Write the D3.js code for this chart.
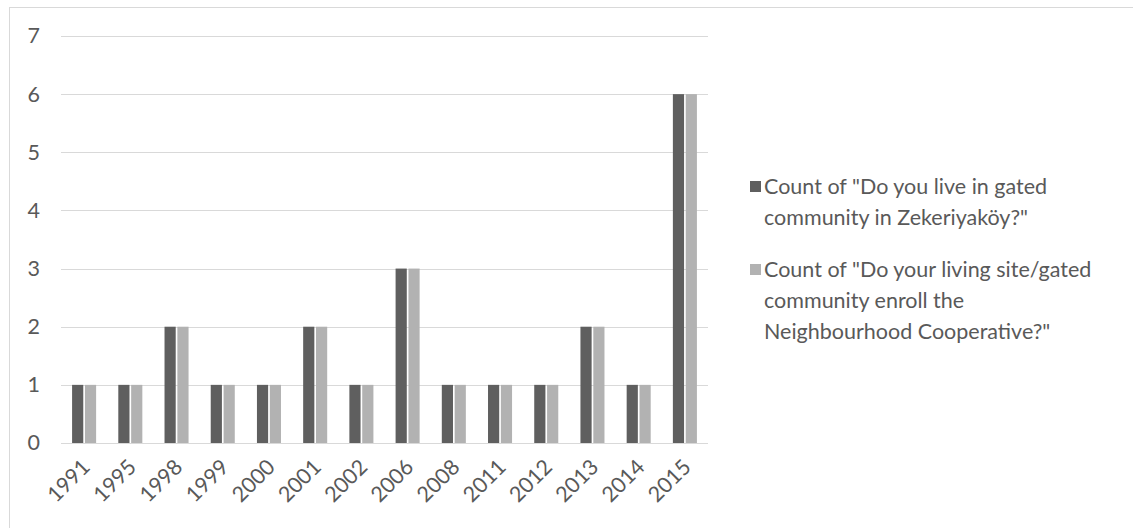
<!DOCTYPE html>
<html>
<head>
<meta charset="utf-8">
<script src="https://cdn.jsdelivr.net/npm/d3@7"></script>
<style>
  html, body { margin: 0; padding: 0; background: #fff; }
  svg { display: block; }
  text { font-family: Lato, "Open Sans", sans-serif; fill: #595959; }
</style>
</head>
<body>
<svg id="chart" width="1133" height="528"></svg>
<script>
// Survey counts by year
const years = ["1991","1995","1998","1999","2000","2001","2002","2006","2008","2011","2012","2013","2014","2015"];
const liveInGated = [1,1,2,1,1,2,1,3,1,1,1,2,1,6];
const enrollCooperative = [1,1,2,1,1,2,1,3,1,1,1,2,1,6];
const seriesNames = [
  ["Count of \"Do you live in gated", "community in Zekeriyaköy?\""],
  ["Count of \"Do your living site/gated", "community enroll the", "Neighbourhood Cooperative?\""]
];
const yTicks = [0,1,2,3,4,5,6,7];
const colors = ["#5f5f5f", "#b2b2b2"];
const fontSize = 21.5;

const svg = d3.select("#chart");

// outer chart frame
svg.append("rect")
  .attr("x", 9.5).attr("y", 7.5)
  .attr("width", 1140).attr("height", 540)
  .attr("fill", "none").attr("stroke", "#d9d9d9").attr("stroke-width", 1);

const plot = { left: 61, right: 708, top: 36, bottom: 443 };

const y = d3.scaleLinear().domain([0, 7]).range([plot.bottom, plot.top]);
const x0 = d3.scaleBand().domain(years).range([plot.left, plot.right])
  .paddingInner(0.48).paddingOuter(0.24);
const keys = [0, 1];
const x1 = d3.scaleBand().domain(keys).range([0, x0.bandwidth()]).paddingInner(0.13);

// gridlines
svg.append("g").selectAll("line").data(yTicks).join("line")
  .attr("x1", plot.left).attr("x2", plot.right)
  .attr("y1", d => Math.round(y(d)) + 0.5).attr("y2", d => Math.round(y(d)) + 0.5)
  .attr("stroke", "#d9d9d9").attr("stroke-width", 1);

// y tick labels
const yAxis = d3.axisLeft(y).tickValues(yTicks).tickFormat(d3.format("d")).tickSize(0).tickPadding(0);
const gy = svg.append("g").attr("transform", `translate(40,0)`).call(yAxis);
gy.select(".domain").remove();
gy.selectAll("text").attr("font-size", fontSize).attr("fill", "#595959")
  .style("font-family", "Lato, 'Open Sans', sans-serif");

// bars
const data = years.map((yr, i) => ({ yr, vals: [liveInGated[i], enrollCooperative[i]] }));
const groups = svg.append("g").selectAll("g").data(data).join("g")
  .attr("transform", d => `translate(${x0(d.yr)},0)`);
groups.selectAll("rect").data(d => d.vals.map((v, k) => ({ k, v }))).join("rect")
  .attr("x", d => x1(d.k))
  .attr("width", x1.bandwidth())
  .attr("y", d => y(d.v))
  .attr("height", d => y(0) - y(d.v))
  .attr("fill", d => colors[d.k]);

// x tick labels, rotated
const xAxis = d3.axisBottom(x0).tickSize(0).tickPadding(0);
const gx = svg.append("g").attr("transform", `translate(0,${plot.bottom})`).call(xAxis);
gx.select(".domain").remove();
gx.selectAll("text")
  .attr("font-size", fontSize).attr("fill", "#595959")
  .style("font-family", "Lato, 'Open Sans', sans-serif")
  .attr("text-anchor", "end")
  .attr("dy", "0.35em").attr("y", 0)
  .attr("transform", "translate(2,20) rotate(-45)");

// legend
const legendTop = [194, 277];
seriesNames.forEach((lines, k) => {
  const g = svg.append("g");
  g.append("rect")
    .attr("x", 750).attr("y", legendTop[k] - 13)
    .attr("width", 11).attr("height", 11)
    .attr("fill", colors[k]);
  lines.forEach((ln, j) => {
    g.append("text")
      .attr("x", 764).attr("y", legendTop[k] + j * 31)
      .attr("font-size", fontSize)
      .text(ln);
  });
});
</script>
</body>
</html>
